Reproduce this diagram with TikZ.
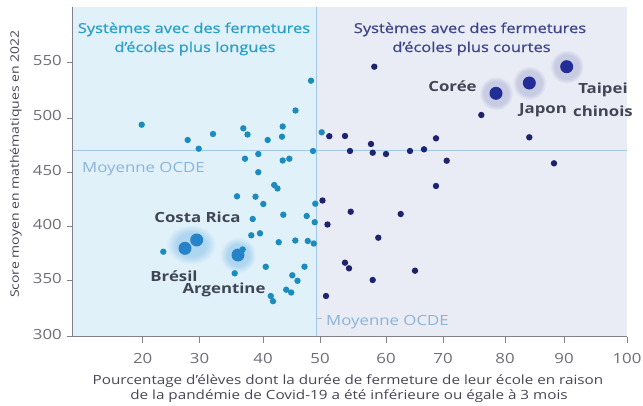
\documentclass[tikz,border=0pt]{standalone}
\usepackage{fontspec}
\setmainfont[FakeStretch=1.2]{Open Sans}
\newfontfamily\headfont[FakeStretch=1.2,FakeBold=0.8]{Open Sans}
\usetikzlibrary{calc}
\definecolor{leftbg}{RGB}{224,241,250}
\definecolor{rightbg}{RGB}{233,235,245}
\definecolor{tealdot}{RGB}{28,140,190}
\definecolor{navydot}{RGB}{30,35,110}
\definecolor{bigteal}{RGB}{40,130,200}
\definecolor{bignavy}{RGB}{35,45,150}
\definecolor{haloL}{RGB}{175,214,240}
\definecolor{haloR}{RGB}{200,204,226}
\definecolor{meanline}{RGB}{160,200,230}
\definecolor{meantext}{RGB}{140,180,215}
\definecolor{headL}{RGB}{40,160,200}
\definecolor{headR}{RGB}{60,70,140}
\definecolor{axiscol}{RGB}{130,130,140}
\definecolor{ticktext}{RGB}{110,110,120}
\definecolor{titletext}{RGB}{70,70,85}
\definecolor{countrytext}{RGB}{65,70,85}
\pgfdeclareradialshading{haloshadeL}{\pgfpoint{0bp}{0bp}}{color(0bp)=(haloL); color(15bp)=(haloL); color(25bp)=(leftbg); color(50bp)=(leftbg)}
\pgfdeclareradialshading{haloshadeR}{\pgfpoint{0bp}{0bp}}{color(0bp)=(haloR); color(18bp)=(haloR); color(25bp)=(rightbg); color(50bp)=(rightbg)}
\tikzset{
  sdotL/.style={fill=tealdot},
  sdotR/.style={fill=navydot},
  bigL/.style={fill=bigteal},
  bigR/.style={fill=bignavy},
  haloLs/.style={shading=haloshadeL},
  haloRs/.style={shading=haloshadeR},
  heading/.style={font=\headfont\fontsize{13.7}{16}\selectfont, anchor=base, inner sep=0pt},
  country/.style={font=\bfseries\fontsize{14}{16}\selectfont, text=countrytext, anchor=base, inner sep=0pt},
  meanlabel/.style={font=\fontsize{14}{16}\selectfont, text=meantext, anchor=base west, inner sep=0pt},
  ylab/.style={font=\fontsize{14}{16}\selectfont, text=ticktext, anchor=mid east, inner sep=0pt},
  xlab/.style={font=\fontsize{14}{16}\selectfont, text=ticktext, anchor=base, inner sep=0pt},
  axtitle/.style={font=\fontsize{12.7}{14}\selectfont, text=titletext, anchor=base, inner sep=0pt},
  axline/.style={axiscol, line width=0.8pt},
  mline/.style={meanline, line width=0.8pt},
}
\begin{document}
\begin{tikzpicture}[x=1pt,y=-1pt]
\useasboundingbox (0,0) rectangle (643,405);
\fill[white] (0,0) rectangle (643,405);
% backgrounds
\fill[leftbg] (72.7,6.7) rectangle (316,336.7);
\fill[rightbg] (316,6.7) rectangle (627,336.7);
% halos
\shade[haloLs] (191,244.5) ellipse [x radius=25, y radius=20];
\shade[haloLs] (238,255) circle (18);
\shade[haloRs] (496,93.3) circle (17);
\shade[haloRs] (529.3,83) circle (17);
\shade[haloRs] (566.7,66.7) circle (17);
% mean lines
\draw[mline] (72.7,150) -- (627,150);
\draw[mline] (316,6.7) -- (316,336.7);
\draw[mline] (316,318.5) -- (322,318.5);
% axes
\draw[axline] (72.7,6.7) -- (72.7,336.7) -- (627,336.7);
\foreach \y/\t in {62.5/550,118.3/500,172.7/450,226.7/400,280.5/350,336.7/300}{
  \draw[axline] (66.7,\y) -- (72.7,\y);
  \node[ylab] at (62,\y) {\t};
}
\foreach \x/\t in {142.7/20,199.5/30,263/40,320/50,386/60,443/70,505/80,564/90,627/100}{
  \draw[axline] (\x,336.7) -- (\x,342.7);
  \node[xlab] at (\x,363) {\t};
}
% small dots, left
\foreach \p in {(141.7,124.7),(187.7,140),(198.7,148.7),(213,134),(243.3,128.3),(247.5,134.5),(245,158.7),(258.3,154),(258.3,172.2),(267.7,140),(274.2,185),(277.5,188.5),(282.7,126.5),(282,136.7),(282.7,160.5),(289.3,158.7),(295.5,110.5),(311,80.7),(313,151),(321.7,132.3),(237,196.3),(255.5,196.7),(263.3,204),(315.3,203.7),(283.3,214.7),(306.7,216),(314.7,222.2),(252.7,219),(251.3,235.3),(260,233.3),(278.7,242.2),(295.3,240.5),(307.8,241),(313.8,243.5),(242.7,249.5),(163.3,251.7),(265.8,266.8),(304.5,266.7),(234.7,273.3),(292.3,275.3),(297.5,280.8),(286.2,289.7),(291.2,292.5),(270.8,296),(273,301.2)}
  \fill[sdotL] \p circle (3.2);
% small dots, right
\foreach \p in {(374.3,66.7),(481.3,115),(329.3,136.2),(345,136),(371,144),(350,151),(372.7,152.7),(386,154),(410,151),(424,149.3),(436,138.3),(446.7,160.7),(436,186),(529.3,137.3),(554,163.3),(322.5,200.5),(350.7,211.7),(400.7,214),(327.5,224.5),(378.3,237.7),(345,262.7),(349,268.3),(415,270.7),(372.7,280),(326,296)}
  \fill[sdotR] \p circle (3.2);
% big dots
\fill[bigL] (185,248.3) circle (6.5);
\fill[bigL] (196.7,240) circle (6.5);
\fill[bigL] (238,255) circle (6.5);
\fill[bigR] (496,93.3) circle (6.5);
\fill[bigR] (529.3,83) circle (6.5);
\fill[bigR] (566.7,66.7) circle (6.5);
% headings
\node[heading, text=headL] (hl1) at (194,33) {Systèmes avec des fermetures};
\node[heading, text=headL] (hl2) at (195,52) {d’écoles plus longues};
\node[heading, text=headR] (hr1) at (470,33) {Systèmes avec des fermetures};
\node[heading, text=headR] (hr2) at (471.5,52) {d’écoles plus courtes};
% mean labels
\node[meanlabel] (m1) at (82,172) {Moyenne OCDE};
\node[meanlabel] (m2) at (326,325) {Moyenne OCDE};
% country labels
\node[country] (cr) at (197.5,222) {Costa Rica};
\node[country] (br) at (174,281.7) {Brésil};
\node[country] (ar) at (224,293) {Argentine};
\node[country] (co) at (452.5,91.7) {Corée};
\node[country] (jp) at (543,113) {Japon};
\node[country] (tp1) at (603,93) {Taipei};
\node[country] (tp2) at (603,116.7) {chinois};
% axis titles
\node[axtitle, rotate=90, font=\fontsize{11.7}{14}\selectfont] (yt) at (19,164) {Score moyen en mathématiques en 2022};
\node[axtitle] (xt1) at (348,384) {Pourcentage d’élèves dont la durée de fermeture de leur école en raison};
\node[axtitle] (xt2) at (349,399.5) {de la pandémie de Covid-19 a été inférieure ou égale à 3 mois};
\end{tikzpicture}
\end{document}
